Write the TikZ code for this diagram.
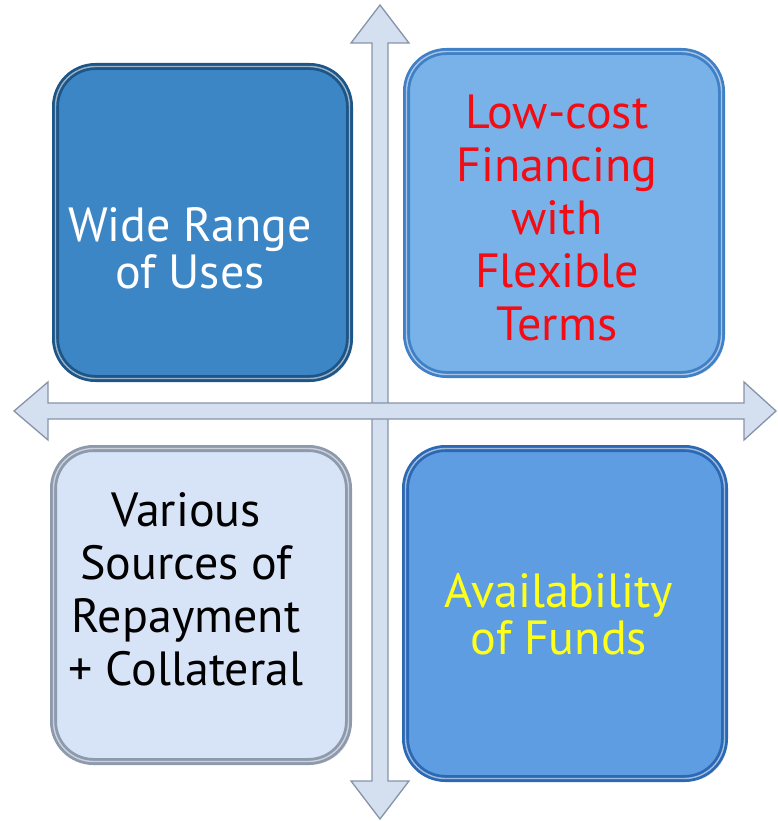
\documentclass[tikz,border=0pt]{standalone}
\usepackage{fontspec}
\setmainfont{PT Sans}
\usetikzlibrary{calc,shadows}
\definecolor{axisfill}{HTML}{D4E0F0}
\definecolor{axisline}{HTML}{8793A8}
\definecolor{deepblue}{HTML}{3C86C6}
\definecolor{deepedge}{HTML}{1D5587}
\definecolor{skyblue}{HTML}{78B2E8}
\definecolor{skyedge}{HTML}{3F80C6}
\definecolor{paleblue}{HTML}{D7E3F6}
\definecolor{paleedge}{HTML}{8D99AC}
\definecolor{midblue}{HTML}{5E9DE2}
\definecolor{midedge}{HTML}{2C69B4}
\definecolor{fundyellow}{HTML}{FFFF1A}
\definecolor{costred}{HTML}{F20D14}
\tikzset{
  quad/.style={rectangle, rounded corners=40pt, line width=7pt,
    drop shadow={shadow xshift=3pt, shadow yshift=-3pt, opacity=.25},
    postaction={draw=white, draw opacity=.55, line width=1.4pt}},
  axis/.style={fill=axisfill, draw=axisline, line width=1.3pt, line join=miter},
  quadtext/.style={align=center, inner sep=0pt}
}

\begin{document}
\begin{tikzpicture}[x=1pt,y=-1pt]
\useasboundingbox (0,0) rectangle (777,821);
% axis ends
\coordinate (n) at (380,5);
\coordinate (s) at (380,819);
\coordinate (w) at (14,411);
\coordinate (e) at (776,411);
\draw[axis] (n) -- ($(n)+(29,38)$) -- ($(n)+(8,38)$) -- ($(s)+(8,-38)$)
  -- ($(s)+(29,-38)$) -- (s) -- ($(s)+(-29,-38)$) -- ($(s)+(-8,-38)$)
  -- ($(n)+(-8,38)$) -- ($(n)+(-29,38)$) -- cycle;
\draw[axis] (w) -- ($(w)+(34,-29)$) -- ($(w)+(34,-8)$) -- ($(e)+(-32,-8)$)
  -- ($(e)+(-32,-29)$) -- (e) -- ($(e)+(-32,29)$) -- ($(e)+(-32,8)$)
  -- ($(w)+(34,8)$) -- ($(w)+(34,29)$) -- cycle;
% the four boxes
\foreach \n/\x/\y/\w/\h/\f/\e in {1/202.5/222.5/294/312/deepblue/deepedge,
    2/564/213/315/323/skyblue/skyedge,
    3/201/605/295/313/paleblue/paleedge,
    4/565/613.5/319/330/midblue/midedge}
  \node[quad, fill=\f, draw=\e, minimum width=\w pt, minimum height=\h pt]
    (box\n) at (\x,\y) {};
\foreach \n/\x/\y/\c/\s/\t in {1/190/248/white/47/{Wide Range\\of Uses},
    2/557/218/costred/53/{Low-cost\\Financing\\with\\Flexible\\Terms},
    3/186/589/black/53/{Various\\Sources of\\Repayment\\+ Collateral},
    4/559/614/fundyellow/47/{Availability\\of Funds}}
  \node[quadtext, text=\c, font=\fontsize{48}{\s}\selectfont] (txt\n) at (\x,\y) {\t};
\end{tikzpicture}
\end{document}
